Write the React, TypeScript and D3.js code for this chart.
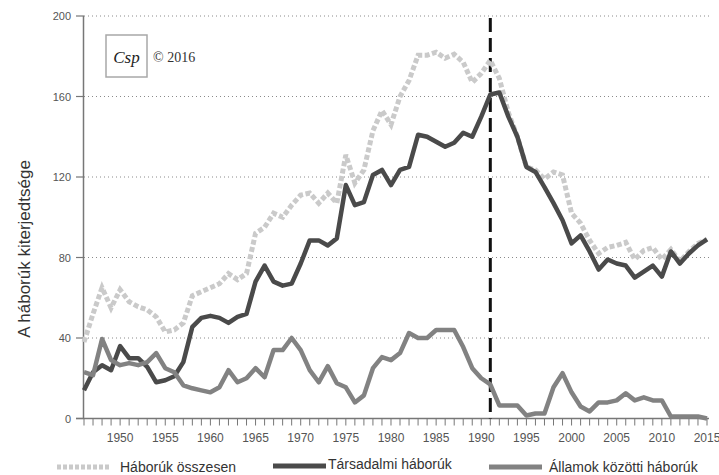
import React, { useEffect, useRef } from 'react';
import * as d3 from 'd3';

// years 1946..2015
const years: number[] = d3.range(1946, 2016);

const totalWars: number[] = [
  38, 52, 65, 55, 64, 58, 55.5, 54, 50.5, 43,
  44, 47.5, 61, 63, 65, 67, 72, 69, 72, 92,
  95, 102, 100, 106, 111, 112, 107, 112, 107, 131,
  117, 123.5, 143, 153, 146, 160, 168, 180.5, 180.5, 182,
  179, 181, 177, 167, 171.5, 178, 169, 152, 140, 125,
  123.5, 119, 122.5, 121, 102, 97, 88.5, 82, 85, 86,
  87.5, 79, 83.5, 85, 79, 84, 78, 83, 87, 89
];

const societalWars: number[] = [
  14, 23, 26.5, 24, 36, 30, 30, 25.6, 18, 19,
  21, 28, 45.5, 50, 51, 50, 47.5, 50.5, 52, 68,
  76, 68, 66, 67, 77, 88.5, 88.5, 86, 89.5, 116,
  106, 107.5, 121, 123.5, 116, 123.5, 125, 141, 140, 137.5,
  135, 137, 142, 140, 150, 161, 162, 150, 140, 125,
  122.5, 115, 107, 98.5, 87, 91, 83, 74, 79, 77,
  76, 70, 73, 76, 70.5, 83, 77, 82, 86, 89
];

const interstateWars: number[] = [
  23, 21.5, 39.5, 29, 26.5, 27.5, 26.5, 28, 32.5, 25,
  23, 16.5, 15, 14, 13, 15.5, 24, 18, 20, 25,
  20.5, 34, 34, 40, 34, 24, 18, 26, 17.5, 15.5,
  8, 11.5, 25, 30.5, 29, 32.5, 42.5, 40, 40, 44,
  44, 44, 35.5, 25, 20, 17, 6.5, 6.5, 6.5, 1.5,
  2.5, 2.5, 15.5, 22.5, 13, 6, 3.5, 8, 8, 9,
  12.5, 9, 10.5, 9, 9, 1, 1, 1, 1, 0
];

const yTicks: number[] = [0, 40, 80, 120, 160, 200];
const xLabels: number[] = [1950, 1955, 1960, 1965, 1970, 1975, 1980, 1985, 1990, 1995, 2000, 2005, 2010, 2015];
const markerYear = 1991;

const legendLabels = ['Háborúk összesen', 'Társadalmi háborúk', 'Államok közötti háborúk'];

const W = 719;
const H = 475;
const FONT = "'Liberation Sans', Arial, sans-serif";

export default function App() {
  const ref = useRef<SVGSVGElement>(null);

  useEffect(() => {
    const svg = d3.select(ref.current);
    svg.selectAll('*').remove();

    const x = d3.scaleLinear().domain([1946, 2015]).range([84, 707]);
    const y = d3.scaleLinear().domain([0, 200]).range([418.5, 16]);

    // gridlines (dotted)
    svg.append('g')
      .selectAll('line')
      .data(yTicks.filter(d => d > 0))
      .enter()
      .append('line')
      .attr('x1', 84)
      .attr('x2', 709)
      .attr('y1', d => y(d))
      .attr('y2', d => y(d))
      .attr('stroke', '#8a8a8a')
      .attr('stroke-width', 1)
      .attr('stroke-dasharray', '1,3');

    // y axis
    const yAxis = svg.append('g');
    yAxis.append('line')
      .attr('x1', 83.5).attr('x2', 83.5)
      .attr('y1', y(200)).attr('y2', y(0))
      .attr('stroke', '#777').attr('stroke-width', 1.5);
    yAxis.selectAll('line.tick')
      .data(yTicks)
      .enter()
      .append('line')
      .attr('class', 'tick')
      .attr('x1', 76).attr('x2', 84)
      .attr('y1', d => y(d)).attr('y2', d => y(d))
      .attr('stroke', '#777').attr('stroke-width', 1.2);
    yAxis.selectAll('text')
      .data(yTicks)
      .enter()
      .append('text')
      .attr('x', 71)
      .attr('y', d => y(d) + 4)
      .attr('text-anchor', 'end')
      .style('font-family', FONT)
      .style('font-size', '11px')
      .attr('fill', '#555')
      .text(d => d);

    // x axis
    const xAxis = svg.append('g');
    xAxis.append('line')
      .attr('x1', 76).attr('x2', 709)
      .attr('y1', y(0)).attr('y2', y(0))
      .attr('stroke', '#777').attr('stroke-width', 1.5);
    xAxis.selectAll('line.tick')
      .data(years)
      .enter()
      .append('line')
      .attr('class', 'tick')
      .attr('x1', d => x(d)).attr('x2', d => x(d))
      .attr('y1', y(0)).attr('y2', y(0) + 7)
      .attr('stroke', '#777').attr('stroke-width', 1);
    xAxis.selectAll('text')
      .data(xLabels)
      .enter()
      .append('text')
      .attr('x', d => x(d))
      .attr('y', 442)
      .attr('text-anchor', 'middle')
      .style('font-family', FONT)
      .style('font-size', '12px')
      .attr('fill', '#555')
      .text(d => d);

    // y title
    svg.append('text')
      .attr('transform', 'translate(30,249) rotate(-90)')
      .attr('text-anchor', 'middle')
      .style('font-family', FONT)
      .style('font-size', '17px')
      .attr('fill', '#333')
      .text('A háborúk kiterjedtsége');

    // end-of-cold-war marker
    svg.append('line')
      .attr('x1', x(markerYear)).attr('x2', x(markerYear))
      .attr('y1', y(200) + 2).attr('y2', y(0))
      .attr('stroke', '#111')
      .attr('stroke-width', 3)
      .attr('stroke-dasharray', '14,6');

    const line = (vals: number[]) => d3.line<number>()
      .x((_, i) => x(years[i]))
      .y(d => y(d))(vals);

    svg.append('path')
      .attr('d', line(totalWars))
      .attr('fill', 'none')
      .attr('stroke', '#cacaca')
      .attr('stroke-width', 5)
      .attr('stroke-dasharray', '5,2.5');

    svg.append('path')
      .attr('d', line(societalWars))
      .attr('fill', 'none')
      .attr('stroke', '#4a4a4a')
      .attr('stroke-width', 4.5)
      .attr('stroke-linejoin', 'round');

    svg.append('path')
      .attr('d', line(interstateWars))
      .attr('fill', 'none')
      .attr('stroke', '#828282')
      .attr('stroke-width', 4.5)
      .attr('stroke-linejoin', 'round');

    // logo
    const logo = svg.append('g');
    logo.append('rect')
      .attr('x', 106).attr('y', 35)
      .attr('width', 41).attr('height', 42)
      .attr('fill', '#fff')
      .attr('stroke', '#a8a8a8')
      .attr('stroke-width', 1.5);
    logo.append('text')
      .attr('x', 126.5).attr('y', 63)
      .attr('text-anchor', 'middle')
      .style('font-family', "'Liberation Serif', serif")
      .style('font-style', 'italic')
      .style('font-size', '17px')
      .attr('fill', '#222')
      .text('Csp');
    svg.append('text')
      .attr('x', 153).attr('y', 62)
      .style('font-family', "'Liberation Serif', serif")
      .style('font-size', '14px')
      .attr('fill', '#333')
      .text('© 2016');

    // legend
    const legendStyles = [
      { x1: 57, x2: 110, y: 467, color: '#cacaca', dash: '4,2', tx: 120, ty: 472 },
      { x1: 273, x2: 326, y: 466, color: '#4a4a4a', dash: null, tx: 328, ty: 469 },
      { x1: 489, x2: 542, y: 467, color: '#828282', dash: null, tx: 549, ty: 472 }
    ];
    const legend = svg.append('g');
    legendLabels.forEach((label, i) => {
      const s = legendStyles[i];
      const l = legend.append('line')
        .attr('x1', s.x1).attr('x2', s.x2)
        .attr('y1', s.y).attr('y2', s.y)
        .attr('stroke', s.color)
        .attr('stroke-width', 5);
      if (s.dash) l.attr('stroke-dasharray', s.dash);
      legend.append('text')
        .attr('x', s.tx).attr('y', s.ty)
        .style('font-family', FONT)
        .style('font-size', '14px')
        .attr('fill', '#333')
        .text(label);
    });
  }, []);

  return (
    <div style={{ position: 'absolute', left: 0, top: 0, background: '#fff' }}>
      <svg ref={ref} width={W} height={H} style={{ display: 'block' }} />
    </div>
  );
}
